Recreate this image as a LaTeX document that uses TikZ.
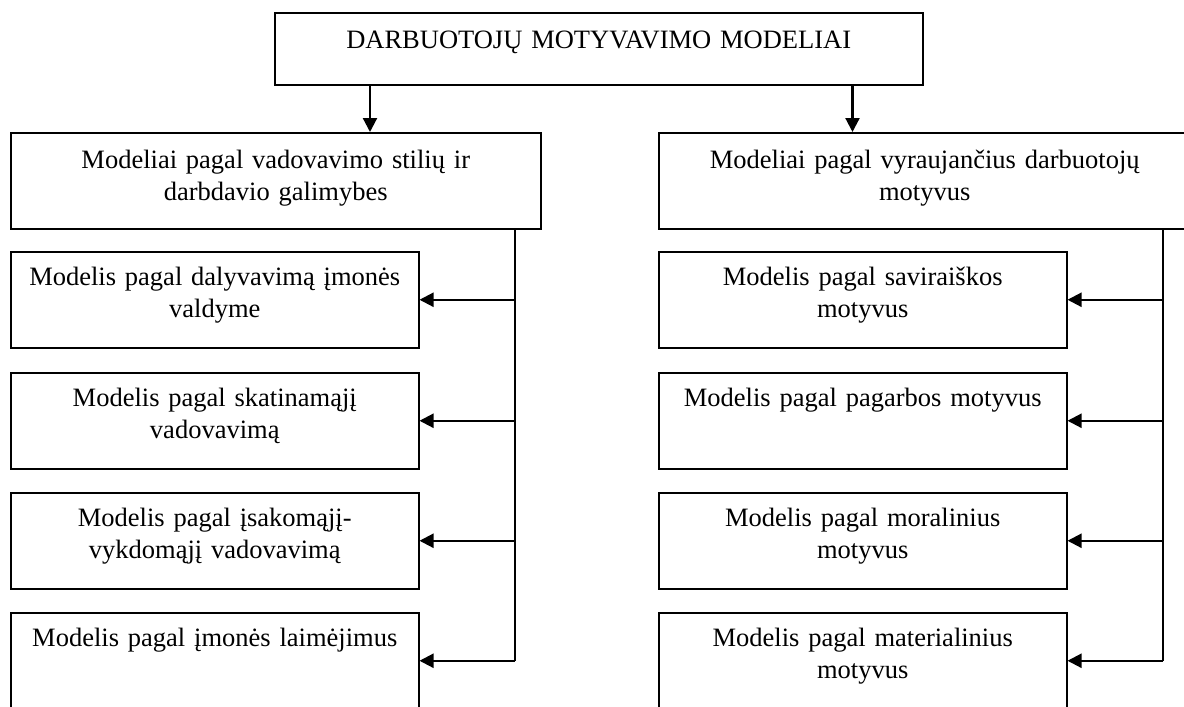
\documentclass[tikz,border=0pt]{standalone}
\usepackage{fontspec}
\setmainfont{Liberation Serif}
\usetikzlibrary{arrows.meta, positioning, calc}

\begin{document}
\begin{tikzpicture}[
  x=1pt,
  y=1pt,
  font=\fontsize{26.5}{32}\selectfont,
  head/.style={draw, line width=1.5pt, anchor=north west, align=center,
    inner xsep=4pt, inner ysep=0pt, text width=640pt,
    text height=36pt, text depth=36pt},
  group/.style={draw, line width=1.5pt, anchor=north west, align=center,
    inner xsep=4pt, inner ysep=0pt, text width=522pt,
    text height=36pt, text depth=60pt},
  model/.style={draw, line width=1.5pt, anchor=north west, align=center,
    inner xsep=4pt, inner ysep=0pt, text width=400pt,
    text height=34pt, text depth=62pt},
  arrow/.style={-{Triangle[length=14pt, width=14pt]}, line width=2.2pt},
  spine/.style={line width=2pt}
]
  \useasboundingbox (0,0) rectangle (1184,-707);

  % Top of the hierarchy.
  \node[head] at (274,-12) (top) {DARBUOTOJŲ MOTYVAVIMO MODELIAI};

  % Two groups of models.
  \node[group] at (10,-132) (lgroup) {Modeliai pagal vadovavimo stilių ir\\darbdavio galimybes};
  \node[group, text width=524pt] at (658,-132) (rgroup) {Modeliai pagal vyraujančius darbuotojų\\motyvus};

  \draw[arrow] ([xshift=96pt]top.south west) -- ([xshift=96pt]top.south west |- lgroup.north);
  \draw[arrow] ([xshift=-71pt]top.south east) -- ([xshift=-71pt]top.south east |- rgroup.north);

  % Models by leadership style.
  \node[model] at (10,-251) (lmodel1) {Modelis pagal dalyvavimą įmonės\\valdyme};
  \node[model] at (10,-372) (lmodel2) {Modelis pagal skatinamąjį\\vadovavimą};
  \node[model] at (10,-492) (lmodel3) {Modelis pagal įsakomąjį-\\vykdomąjį vadovavimą};
  \node[model] at (10,-612) (lmodel4) {Modelis pagal įmonės laimėjimus};

  \coordinate (lspine) at (515,-228);
  \draw[spine] (lspine) -- (lspine |- lmodel4.east);
  \draw[arrow] (lspine |- lmodel1.east) -- (lmodel1.east);
  \draw[arrow] (lspine |- lmodel2.east) -- (lmodel2.east);
  \draw[arrow] (lspine |- lmodel3.east) -- (lmodel3.east);
  \draw[arrow] (lspine |- lmodel4.east) -- (lmodel4.east);

  % Models by prevailing motives.
  \node[model] at (658,-251) (rmodel1) {Modelis pagal saviraiškos\\motyvus};
  \node[model] at (658,-372) (rmodel2) {Modelis pagal pagarbos motyvus};
  \node[model] at (658,-492) (rmodel3) {Modelis pagal moralinius\\motyvus};
  \node[model] at (658,-612) (rmodel4) {Modelis pagal materialinius\\motyvus};

  \coordinate (rspine) at (1163,-228);
  \draw[spine] (rspine) -- (rspine |- rmodel4.east);
  \draw[arrow] (rspine |- rmodel1.east) -- (rmodel1.east);
  \draw[arrow] (rspine |- rmodel2.east) -- (rmodel2.east);
  \draw[arrow] (rspine |- rmodel3.east) -- (rmodel3.east);
  \draw[arrow] (rspine |- rmodel4.east) -- (rmodel4.east);

\end{tikzpicture}
\end{document}
